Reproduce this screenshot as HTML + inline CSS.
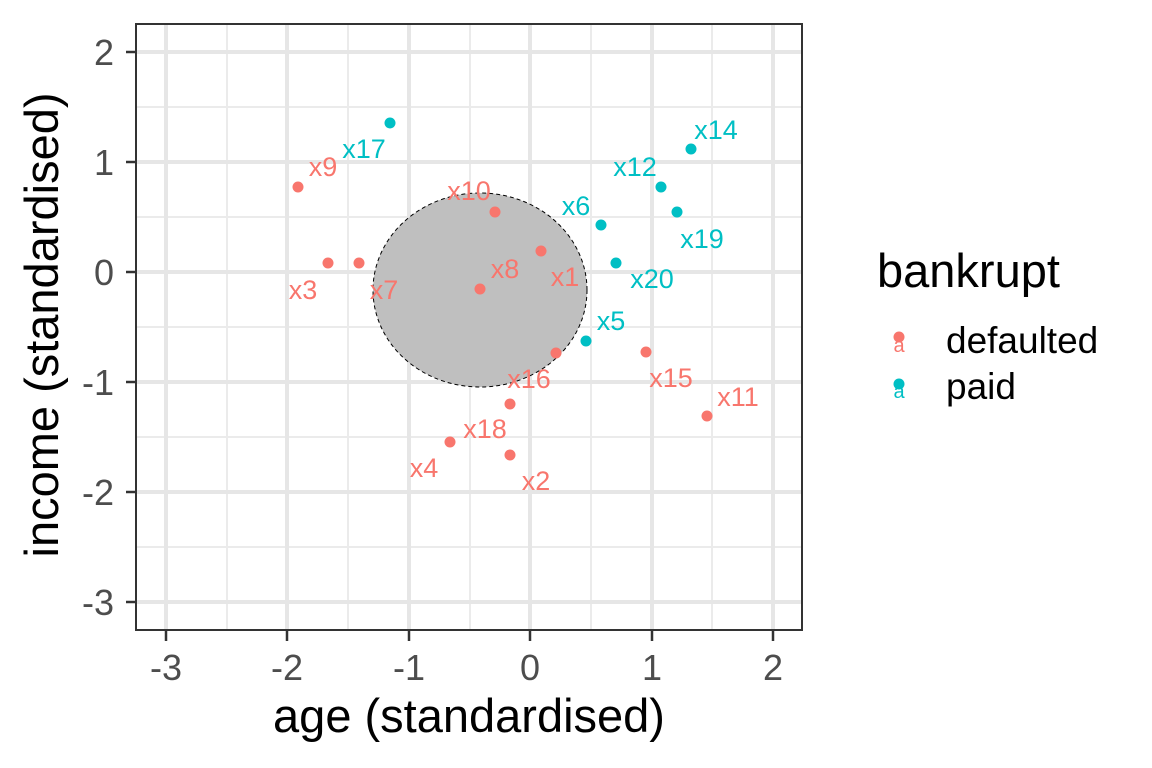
<!DOCTYPE html>
<html><head><meta charset="utf-8"><style>body{margin:0;background:#fff}svg{display:block}text{font-family:"Liberation Sans",Arial,sans-serif}</style></head><body>
<svg width="1152" height="768" xmlns="http://www.w3.org/2000/svg">
<rect width="1152" height="768" fill="#fff"/>
<g stroke="#ebebeb" stroke-width="2">
<line x1="136" x2="802" y1="107" y2="107"/><line x1="136" x2="802" y1="217" y2="217"/><line x1="136" x2="802" y1="327" y2="327"/><line x1="136" x2="802" y1="437" y2="437"/><line x1="136" x2="802" y1="547" y2="547"/>
<line y1="24" y2="630" x1="227" x2="227"/><line y1="24" y2="630" x1="348" x2="348"/><line y1="24" y2="630" x1="470" x2="470"/><line y1="24" y2="630" x1="591" x2="591"/><line y1="24" y2="630" x1="712" x2="712"/>
</g>
<g stroke="#e6e6e6" stroke-width="4">
<line x1="136" x2="802" y1="52" y2="52"/><line x1="136" x2="802" y1="162" y2="162"/><line x1="136" x2="802" y1="272" y2="272"/><line x1="136" x2="802" y1="382" y2="382"/><line x1="136" x2="802" y1="492" y2="492"/><line x1="136" x2="802" y1="602" y2="602"/>
<line y1="24" y2="630" x1="166" x2="166"/><line y1="24" y2="630" x1="287" x2="287"/><line y1="24" y2="630" x1="409" x2="409"/><line y1="24" y2="630" x1="530" x2="530"/><line y1="24" y2="630" x1="652" x2="652"/><line y1="24" y2="630" x1="773" x2="773"/>
</g>
<ellipse cx="480" cy="290" rx="107" ry="97" fill="#bfbfbf" stroke="#000" stroke-width="1" stroke-dasharray="4,3"/>
<g fill="#F8766D">
<circle cx="298" cy="187" r="5.5"/><circle cx="495" cy="212" r="5.5"/><circle cx="541" cy="251" r="5.5"/><circle cx="328" cy="263" r="5.5"/><circle cx="359" cy="263" r="5.5"/><circle cx="480" cy="289" r="5.5"/><circle cx="646" cy="352" r="5.5"/><circle cx="556" cy="353" r="5.5"/><circle cx="707" cy="416" r="5.5"/><circle cx="510" cy="404" r="5.5"/><circle cx="450" cy="442" r="5.5"/><circle cx="510" cy="455" r="5.5"/>
</g>
<g fill="#00BFC4">
<circle cx="390" cy="123" r="5.5"/><circle cx="601" cy="225" r="5.5"/><circle cx="691" cy="149" r="5.5"/><circle cx="661" cy="187" r="5.5"/><circle cx="677" cy="212" r="5.5"/><circle cx="616" cy="263" r="5.5"/><circle cx="586" cy="341" r="5.5"/>
</g>
<g font-size="27" fill="#F8766D" text-anchor="middle">
<text x="323" y="176">x9</text><text x="469" y="200">x10</text><text x="565" y="286">x1</text><text x="505" y="278">x8</text><text x="303" y="299">x3</text><text x="384" y="299">x7</text><text x="671" y="387">x15</text><text x="529" y="388">x16</text><text x="738" y="406">x11</text><text x="485" y="438">x18</text><text x="424" y="477">x4</text><text x="536" y="490">x2</text>
</g>
<g font-size="27" fill="#00BFC4" text-anchor="middle">
<text x="364" y="158">x17</text><text x="576" y="215">x6</text><text x="716" y="139">x14</text><text x="635" y="176">x12</text><text x="702" y="248">x19</text><text x="652" y="288">x20</text><text x="611" y="330">x5</text>
</g>
<rect x="136" y="24" width="666" height="606" fill="none" stroke="#333" stroke-width="2"/>
<g stroke="#333" stroke-width="2.5">
<line x1="126" x2="136" y1="52" y2="52"/><line x1="126" x2="136" y1="162" y2="162"/><line x1="126" x2="136" y1="272" y2="272"/><line x1="126" x2="136" y1="382" y2="382"/><line x1="126" x2="136" y1="492" y2="492"/><line x1="126" x2="136" y1="602" y2="602"/>
<line y1="630" y2="641" x1="166" x2="166"/><line y1="630" y2="641" x1="287" x2="287"/><line y1="630" y2="641" x1="409" x2="409"/><line y1="630" y2="641" x1="530" x2="530"/><line y1="630" y2="641" x1="652" x2="652"/><line y1="630" y2="641" x1="773" x2="773"/>
</g>
<g font-size="36" fill="#4d4d4d" text-anchor="end">
<text x="114" y="65">2</text><text x="114" y="175">1</text><text x="114" y="285">0</text><text x="114" y="395">-1</text><text x="114" y="505">-2</text><text x="114" y="615">-3</text>
</g>
<g font-size="36" fill="#4d4d4d" text-anchor="middle">
<text x="166" y="680">-3</text><text x="287" y="680">-2</text><text x="409" y="680">-1</text><text x="530" y="680">0</text><text x="652" y="680">1</text><text x="773" y="680">2</text>
</g>
<text x="469" y="732" font-size="47" text-anchor="middle">age (standardised)</text>
<text transform="translate(58,325) rotate(-90)" font-size="47" text-anchor="middle">income (standardised)</text>
<text x="877" y="287" font-size="47">bankrupt</text>
<circle cx="899" cy="337" r="5.5" fill="#F8766D"/><text x="899" y="352" font-size="20" fill="#F8766D" text-anchor="middle">a</text>
<circle cx="899" cy="384" r="5.5" fill="#00BFC4"/><text x="899" y="398" font-size="20" fill="#00BFC4" text-anchor="middle">a</text>
<text x="946" y="353" font-size="37">defaulted</text>
<text x="946" y="399" font-size="37">paid</text>
</svg>
</body></html>
